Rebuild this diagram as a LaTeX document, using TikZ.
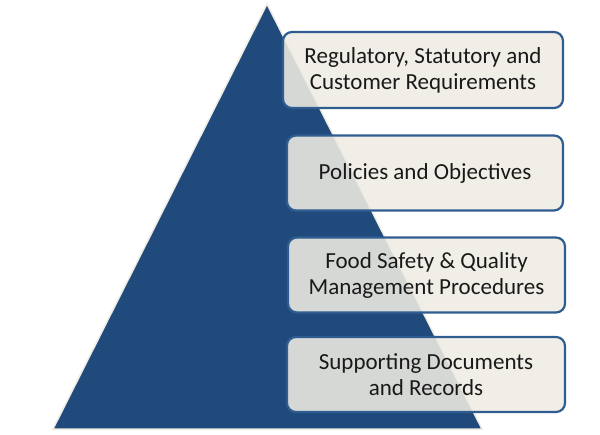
\documentclass[tikz,border=0pt]{standalone}
\usepackage{fontspec}
\setmainfont{Carlito}
\definecolor{pyr}{HTML}{214A7C}
\definecolor{cream}{HTML}{EEECE2}
\definecolor{bord}{HTML}{2F5D92}
\begin{document}
\begin{tikzpicture}[x=1pt,y=-1pt,
  lvl/.style={draw=bord, line width=2.2pt, fill=cream, fill opacity=0.88, text opacity=1,
    rounded corners=9pt, align=center, font=\fontsize{23}{26}\selectfont, text=black!90}]
\useasboundingbox (0,0) rectangle (600,434);
\fill[pyr, draw=cream, line width=1.5pt] (267,4) -- (482,429) -- (53,429) -- cycle;
\node[lvl, minimum width=280pt, minimum height=76pt] (r) at (423,70) {Regulatory, Statutory and\\Customer Requirements};
\node[lvl, minimum width=276pt, minimum height=75pt] (p) at (425,173) {Policies and Objectives};
\node[lvl, minimum width=277pt, minimum height=75pt] (f) at (426.5,275) {Food Safety \& Quality\\Management Procedures};
\node[lvl, minimum width=278pt, minimum height=75pt] (s) at (426,374.5) {Supporting Documents\\and Records};
\end{tikzpicture}
\end{document}
